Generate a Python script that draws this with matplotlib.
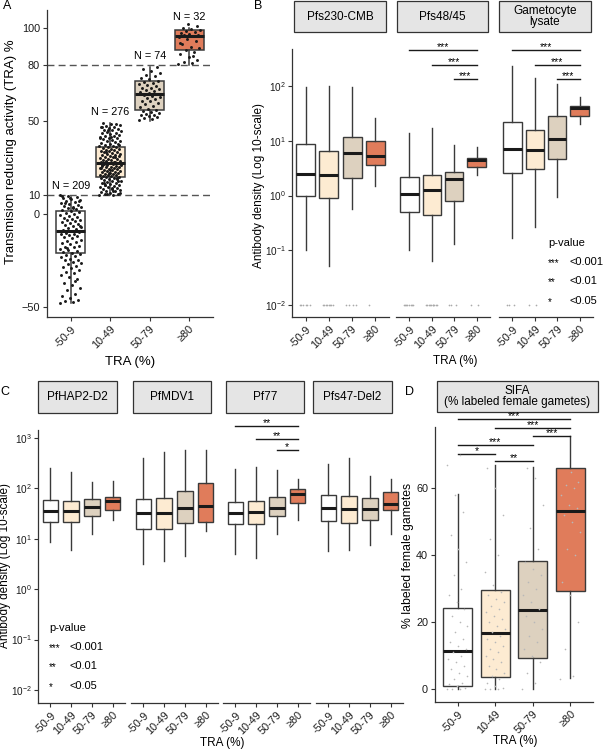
import numpy as np
import matplotlib.pyplot as plt
from matplotlib.patches import Rectangle

plt.rcParams['font.family'] = ['Liberation Sans', 'DejaVu Sans']

# --- data -------------------------------------------------------------
groups = ['-50-9', '10-49', '50-79', '≥80']
box_colors = ['#FFFFFF', '#FDEBD2', '#DDD1BF', '#E07C5B']

# each group: (low whisker, Q1, median, Q3, high whisker)
tra_stats = [(-48, -21, -9, 1.6, 9), (10, 20, 27.4, 36, 49),
             (50, 56, 64.5, 71.5, 79), (80, 88, 95.7, 99, 100)]
tra_n = [209, 276, 74, 32]

tra_pts_1 = [-48, -47.5, -47, -46, -45, -44, -43, -41, -40, -38, -37, -35, -34, -33,
             -32, -31, -30, -29, -28.5, -28, -27, -26.5, -26, -25, -24.5, -24, -23,
             -22.5, -22, -21.5, -21, -20.5, -20, -19.5, -19, -18, -17.5, -17, -16,
             -15.5, -15, -14.5, -14, -13, -12.5, -12, -11.5, -11, -10.5, -10, -9.5,
             -9, -8.5, -8, -7.5, -7, -6.5, -6, -5.5, -5, -4.5, -4, -3.5, -3, -2.5, -2,
             -1.5, -1, -0.5, 0, 0.5, 1, 1.5, 2, 2.5, 3, 3.5, 4, 4.5, 5, 5.5, 6, 6.5, 7,
             7.5, 8, 8.5, 9, 9.5, 10, 3.2, 5.8, 7.2, 8.8, 9.7, -36, -18.5, -6.2]
tra_pts_2 = [10, 10.3, 10.7, 11, 11.4, 11.8, 12.1, 12.5, 12.9, 13.2, 13.6, 14, 14.3,
             14.7, 15, 15.4, 15.8, 16.1, 16.5, 16.9, 17.2, 17.6, 18, 18.3, 18.6, 18.9,
             19.2, 19.5, 19.8, 20, 20.2, 20.5, 20.7, 21, 21.2, 21.5, 21.7, 22, 22.2,
             22.5, 22.7, 23, 23.2, 23.5, 23.7, 24, 24.2, 24.5, 24.7, 25, 25.2, 25.5,
             25.7, 26, 26.2, 26.5, 26.7, 27, 27.2, 27.4, 27.7, 28, 28.3, 28.6, 28.9,
             29.2, 29.5, 29.8, 30.1, 30.4, 30.7, 31, 31.3, 31.6, 31.9, 32.2, 32.5, 32.8,
             33.1, 33.4, 33.7, 34, 34.3, 34.6, 34.9, 35.2, 35.5, 35.8, 36, 36.3, 36.6,
             37, 37.4, 37.8, 38.2, 38.6, 39, 39.4, 39.8, 40.2, 40.6, 41, 41.4, 41.8,
             42.2, 42.6, 43, 43.4, 43.8, 44.2, 44.6, 45, 45.4, 45.8, 46.2, 46.6, 47,
             47.4, 47.8, 48.5, 49, 48.2, 44.9, 40.8, 12.3, 15.6, 17.9, 23.9, 26.4, 30.9,
             10.5, 11.2, 13.9, 16.7, 19.1, 21.9, 24.8, 28.1, 33.6, 37.2, 41.6, 46.9]
tra_pts_3 = [50.5, 51, 51.5, 52, 52.5, 53, 53.5, 54, 54.5, 55, 55.5, 56, 56.5, 57.5,
             58, 59, 59.5, 60.5, 61, 62, 62.5, 63, 63.5, 64, 64.5, 65, 65.5, 66, 66.5,
             67, 67.5, 68, 69, 69.5, 70, 70.5, 71, 71.5, 72.5, 73, 74, 75, 76, 77, 78, 79]
tra_pts_4 = [80.5, 81, 82, 83, 84.5, 86, 87, 88, 89, 90, 91.5, 93, 94, 95, 95.5, 96,
             96.5, 97, 97.5, 98, 98.5, 99, 99.5, 100, 101, 102, 92, 85]

pfs230 = [(0.1, 1.0, 2.5, 8.9, 95), (0.052, 0.92, 2.4, 6.6, 100),
          (0.58, 2.1, 5.9, 11.8, 95), (1.5, 3.6, 5.2, 10, 26)]
pfs4845 = [(0.1, 0.51, 1.05, 2.2, 14), (0.063, 0.45, 1.25, 2.4, 17),
           (0.13, 0.78, 2.0, 2.7, 8.5), (2.4, 3.3, 4.5, 4.9, 7.8)]
gam_lysate = [(0.17, 2.6, 7.2, 22, 230), (0.27, 3.1, 6.9, 16, 140),
              (0.95, 4.7, 11, 28, 110), (20, 29, 40, 44, 63)]

hap2 = [(8.5, 22, 35, 60, 260), (5.9, 22, 35, 56, 210),
        (12.4, 28, 42, 62, 134), (24, 38, 56, 67, 140)]
mdv1 = [(3.2, 16, 32, 63, 410), (3.6, 16, 33, 66, 525),
        (4.5, 21, 40, 88, 590), (14, 22, 45, 127, 580)]
pf77 = [(4.9, 19.4, 32, 54, 245), (4.2, 19.4, 34, 56, 265),
        (12.4, 28, 41, 68, 235), (24, 52, 78, 98, 156)]
pfs47 = [(5.7, 23, 40, 74, 300), (5.9, 21, 39, 70, 410),
         (7.4, 24, 39, 64, 175), (12.4, 38, 49, 84, 156)]

sifa = [(0, 1.0, 11.5, 24.3, 58.3), (0, 3.8, 16.7, 29.6, 67),
        (0, 9.2, 23.6, 38.3, 66.5), (3.3, 29.4, 53.1, 66, 75.5)]
sifa_pts_1 = [0, 0, 0, 0.5, 1, 1.5, 2, 3, 4, 5, 6, 7, 8, 9, 10, 11, 12, 13, 14, 15,
              17, 19, 20, 22, 24, 26, 28, 30, 34, 38, 42, 46, 53, 58, 67, 70]
sifa_pts_2 = [0, 0, 0, 0.5, 1, 2, 3, 4, 5, 6, 7, 8, 9, 10, 11, 12, 13, 14, 15, 16, 17,
              18, 19, 20, 21, 22, 23, 24, 25, 26, 27, 28, 29, 31, 35, 40, 45, 52, 60, 66]
sifa_pts_3 = [0, 2, 5, 8, 10, 12, 14, 16, 18, 20, 22, 24, 26, 28, 30, 32, 34, 36, 38,
              42, 48, 55, 63, 66]
sifa_pts_4 = [3, 4, 12, 20, 28, 32, 40, 42, 47, 50, 52, 54, 55, 58, 60, 61, 62, 65]

# significance brackets: (group i, group j, y, label)
sig_pfs4845 = [(0, 3, 454, '***'), (1, 3, 240, '***'), (2, 3, 134, '***')]
sig_gam = [(0, 3, 454, '***'), (1, 3, 240, '***'), (2, 3, 134, '***')]
sig_pf77 = [(0, 3, 1738, '**'), (1, 3, 955, '**'), (2, 3, 575, '*')]
sig_sifa = [(0, 3, 80.7, '***'), (1, 3, 77.9, '***'), (2, 3, 75.6, '***'),
            (0, 2, 72.9, '***'), (0, 1, 70.2, '*'), (1, 2, 68.1, '**')]

# samples at the detection floor (10^-2)
floor_b = [[6, 8, 4, 1], [8, 10, 3, 2], [3, 2, 0, 0]]

log_ticks_b = [0.01, 0.1, 1, 10, 100]
log_ticks_c = [0.01, 0.1, 1, 10, 100, 1000]

# --- figure -----------------------------------------------------------
W, H = 604, 750
fig = plt.figure(figsize=(W / 100, H / 100), dpi=100)
pos = np.arange(1, 5)
dark = '#333333'
tick_fs = 7.8


def rect(x0, y0, x1, y1):
    return [x0 / W, 1 - y1 / H, (x1 - x0) / W, (y1 - y0) / H]


def fx(x):
    return x / W


def fy(y):
    return 1 - y / H


def make_ax(x0, y0, x1, y1, first=True):
    ax = fig.add_axes(rect(x0, y0, x1, y1))
    ax.set_facecolor('none')
    ax.spines['top'].set_visible(False)
    ax.spines['right'].set_visible(False)
    for s in ['left', 'bottom']:
        ax.spines[s].set_color(dark)
        ax.spines[s].set_linewidth(0.9)
    ax.tick_params(length=3, width=0.8, color=dark, labelsize=tick_fs,
                   labelcolor='#1a1a1a', pad=2)
    if not first:
        ax.spines['left'].set_visible(False)
        ax.tick_params(axis='y', left=False, labelleft=False, which='both')
    ax.set_xlim(0.4, 4.6)
    ax.set_xticks(pos)
    ax.set_xticklabels(groups, rotation=45, ha='right', va='top',
                       rotation_mode='anchor')
    return ax


def draw_boxes(ax, stats, width, lw=1.0):
    st = [dict(whislo=s[0], q1=s[1], med=s[2], q3=s[3], whishi=s[4], fliers=[])
          for s in stats]
    bp = ax.bxp(st, positions=pos, widths=width, patch_artist=True,
                showcaps=False, showfliers=False, manage_ticks=False,
                boxprops=dict(edgecolor='#3a3a3a', linewidth=lw),
                whiskerprops=dict(color='#3a3a3a', linewidth=lw),
                medianprops=dict(color='#1a1a1a', linewidth=2.2))
    for p, c in zip(bp['boxes'], box_colors):
        p.set_facecolor(c)
    return bp


def sig_bars(ax, bars, fs=7.5):
    for i, j, y, lab in bars:
        ax.plot([pos[i], pos[j]], [y, y], color='#1a1a1a', lw=1.0, clip_on=False)
        ax.annotate(lab, ((pos[i] + pos[j]) / 2, y), xytext=(0, -1.2),
                    textcoords='offset points', ha='center', va='bottom',
                    fontsize=fs, annotation_clip=False)


def strip(x0, y0, x1, y1, text, fs=8.5):
    fig.patches.append(Rectangle((fx(x0), fy(y1)), fx(x1 - x0), (y1 - y0) / H,
                                 transform=fig.transFigure, facecolor='#E5E5E5',
                                 edgecolor=dark, linewidth=0.9, zorder=-1))
    fig.text(fx((x0 + x1) / 2), fy((y0 + y1) / 2), text, ha='center',
             va='center', fontsize=fs, linespacing=0.95, zorder=-1)


def log_axis(ax, lo, hi, ticks):
    ax.set_yscale('log')
    ax.set_ylim(lo, hi)
    ax.yaxis.set_minor_locator(plt.NullLocator())
    ax.set_yticks(ticks)
    ax.set_yticklabels(['$\\mathdefault{10^{%d}}$' % round(np.log10(t)) for t in ticks])
    ax.tick_params(axis='y', labelsize=7.2, pad=1.5)


def pvalue_legend(x, y):
    fig.text(fx(x), fy(y), 'p-value', fontsize=8, va='center')
    for k, (st, txt) in enumerate([('***', '<0.001'), ('**', '<0.01'), ('*', '<0.05')]):
        yy = y + 19 + k * 19.3
        fig.text(fx(x), fy(yy + 1), st, fontsize=7, va='center')
        fig.text(fx(x + 21), fy(yy), txt, fontsize=8, va='center')


def ylab(x, y, text, fs):
    fig.text(fx(x), fy(y), text, rotation=90, ha='center', va='center', fontsize=fs)


# --- panel A ----------------------------------------------------------
axA = make_ax(47, 10, 213, 317)
axA.set_ylim(-55.4, 109.7)
axA.set_yticks([-50, 0, 10, 50, 80, 100])
for yl in [10, 80]:
    axA.axhline(yl, color='#555555', lw=1.0, dashes=(5, 3), zorder=0)
draw_boxes(axA, tra_stats, 0.74, lw=1.1)
for k, pts in enumerate([tra_pts_1, tra_pts_2, tra_pts_3, tra_pts_4]):
    pts = np.array(pts)
    jit = ((np.arange(len(pts)) * 0.618034) % 1 - 0.5) * 0.55
    axA.scatter(pos[k] + jit, pts, s=4.5, color='#1a1a1a', lw=0, zorder=5)
    axA.text(pos[k], tra_stats[k][4] + 6, 'N = %d' % tra_n[k], ha='center',
             va='center', fontsize=tick_fs)
ylab(11, 152, 'Transmision reducing activity (TRA) %', 9.5)
fig.text(fx(130), fy(362), 'TRA (%)', ha='center', va='center', fontsize=9.5)

# --- panel B ----------------------------------------------------------
b_x = [(292, 389), (396, 490), (499, 593)]
b_strips = [(294, 386, 'Pfs230-CMB'), (397, 488, 'Pfs48/45'),
            (499, 591, 'Gametocyte\nlysate')]
for k, (st, sg) in enumerate([(pfs230, None), (pfs4845, sig_pfs4845),
                              (gam_lysate, sig_gam)]):
    ax = make_ax(b_x[k][0], 49, b_x[k][1], 317, first=(k == 0))
    log_axis(ax, 10 ** -2.22, 10 ** 2.68, log_ticks_b)
    draw_boxes(ax, st, 0.82)
    for g in range(4):
        n = floor_b[k][g]
        if n:
            jit = ((np.arange(n) * 0.618034) % 1 - 0.5) * 0.5
            ax.scatter(pos[g] + jit, [0.01] * n, s=1.5, color='#aaaaaa', lw=0,
                       zorder=5)
    if sg:
        sig_bars(ax, sg)
    strip(b_strips[k][0], 1, b_strips[k][1], 32, b_strips[k][2])
ylab(259, 185, 'Antibody density (Log 10-scale)', 8.5)
fig.text(fx(455), fy(361), 'TRA (%)', ha='center', va='center', fontsize=8.5)
pvalue_legend(548, 243)

# --- panel C ----------------------------------------------------------
c_x = [(38, 125), (131, 218), (223, 310), (316, 403)]
c_strips = [(38, 117, 'PfHAP2-D2'), (133, 211, 'PfMDV1'), (226, 304, 'Pf77'),
            (313, 392, 'Pfs47-Del2')]
for k, (st, sg) in enumerate([(hap2, None), (mdv1, None), (pf77, sig_pf77),
                              (pfs47, None)]):
    ax = make_ax(c_x[k][0], 430, c_x[k][1], 703, first=(k == 0))
    log_axis(ax, 10 ** -2.26, 10 ** 3.16, log_ticks_c)
    draw_boxes(ax, st, 0.75)
    if sg:
        sig_bars(ax, sg)
    strip(c_strips[k][0], 381, c_strips[k][1], 413, c_strips[k][2])
ylab(5, 566, 'Antibody density (Log 10-scale)', 8.5)
fig.text(fx(222), fy(743), 'TRA (%)', ha='center', va='center', fontsize=8.5)
pvalue_legend(49, 628)

# --- panel D ----------------------------------------------------------
axD = make_ax(435, 427, 593, 702)
axD.set_ylim(-3.8, 78.3)
axD.set_yticks([0, 20, 40, 60])
draw_boxes(axD, sifa, 0.78)
for k, pts in enumerate([sifa_pts_1, sifa_pts_2, sifa_pts_3, sifa_pts_4]):
    jit = ((np.arange(len(pts)) * 0.618034) % 1 - 0.5) * 0.55
    axD.scatter(pos[k] + jit, pts, s=1.4, color='#b8b8b8', lw=0, zorder=5)
sig_bars(axD, sig_sifa)
ylab(408, 555, '% labeled female gametes', 8.8)
strip(437, 381, 598, 412, 'SIFA\n(% labeled female gametes)')
fig.text(fx(515), fy(741), 'TRA (%)', ha='center', va='center', fontsize=8.5)

# panel letters
for t, x, y in [('A', 7, 6), ('B', 258, 6), ('C', 5, 392), ('D', 410, 392)]:
    fig.text(fx(x), fy(y), t, ha='center', va='center', fontsize=9)

fig.savefig('out.png', dpi=100)
